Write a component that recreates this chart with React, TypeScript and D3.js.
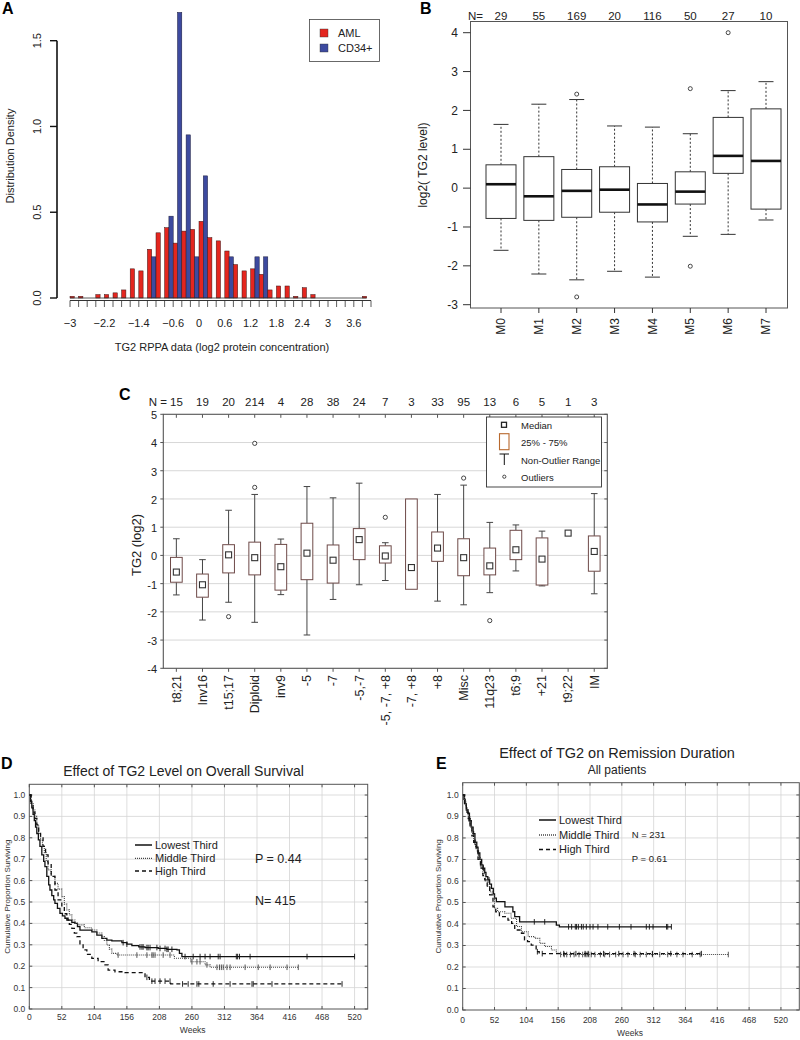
import React from 'react';
import * as d3 from 'd3';

const FONT = "'Liberation Sans', Arial, Helvetica, sans-serif";

// ---------- Panel A: histogram ----------
const histBins = [-3.0, -2.8, -2.6, -2.4, -2.2, -2.0, -1.8, -1.6, -1.4, -1.2, -1.0, -0.8, -0.6, -0.4, -0.2, 0.0, 0.2, 0.4, 0.6, 0.8, 1.0, 1.2, 1.4, 1.6, 1.8, 2.0, 2.2, 2.4, 2.6, 2.8, 3.0, 3.2, 3.4, 3.6, 3.8];
const amlDensity = [0.01, 0.01, 0, 0.02, 0.02, 0.03, 0.047, 0.17, 0.158, 0.284, 0.38, 0.41, 0.32, 0.39, 0.40, 0.447, 0.352, 0.333, 0.274, 0.195, 0.158, 0.17, 0.138, 0.047, 0.07, 0.07, 0.01, 0.06, 0.02, 0, 0, 0, 0, 0, 0.01];
const cd34Density = [0, 0, 0, 0, 0, 0, 0, 0, 0, 0.24, 0, 0.477, 1.665, 0.951, 0.24, 0.712, 0, 0, 0.24, 0, 0, 0.24, 0.24, 0, 0, 0, 0, 0, 0, 0, 0, 0, 0, 0, 0];
const histTickLabels = [-3, -2.2, -1.4, -0.6, 0, 0.6, 1.2, 1.8, 2.4, 3, 3.6];
const histYTicks = [0, 0.5, 1.0, 1.5];
const histSeries = ['AML', 'CD34+'];
const histColors = ['#e4261f', '#3d4a9f'];

// ---------- Panel B: FAB boxplots ----------
const fabCats = ['M0', 'M1', 'M2', 'M3', 'M4', 'M5', 'M6', 'M7'];
const fabN = [29, 55, 169, 20, 116, 50, 27, 10];
const fabLow = [-1.60, -2.21, -2.36, -2.14, -2.29, -1.24, -1.19, -0.82];
const fabQ1 = [-0.78, -0.83, -0.75, -0.62, -0.87, -0.41, 0.38, -0.54];
const fabMed = [0.10, -0.21, -0.07, -0.04, -0.42, -0.09, 0.83, 0.70];
const fabQ3 = [0.60, 0.81, 0.48, 0.55, 0.12, 0.42, 1.82, 2.04];
const fabHigh = [1.64, 2.16, 2.28, 1.60, 1.57, 1.40, 2.51, 2.74];
const fabOutliers = [[], [], [2.42, -2.80], [], [], [2.56, -2.01], [4.0], []];
const fabYTicks = [-3, -2, -1, 0, 1, 2, 3, 4];

// ---------- Panel C: cytogenetics boxplots ----------
const cytoCats = ['t8;21', 'Inv16', 't15;17', 'Diploid', 'inv9', '-5', '-7', '-5,-7', '-5, -7, +8', '-7, +8', '+8', 'Misc', '11q23', 't6;9', '+21', 't9;22', 'IM'];
const cytoN = [15, 19, 20, 214, 4, 28, 38, 24, 7, 3, 33, 95, 13, 6, 5, 1, 3];
const cytoMin = [-1.40, -2.29, -1.66, -2.37, -1.39, -2.82, -1.56, -1.04, -0.89, null, -1.62, -1.75, -1.32, -0.55, -1.08, null, -1.36];
const cytoQ1 = [-0.95, -1.48, -0.62, -0.69, -1.23, -0.86, -0.98, -0.15, -0.27, -1.20, -0.21, -0.72, -0.69, -0.15, -1.05, null, -0.56];
const cytoMed = [-0.59, -1.04, 0.02, -0.08, -0.40, 0.08, -0.17, 0.56, -0.02, -0.43, 0.26, -0.08, -0.37, 0.20, -0.13, 0.79, 0.14];
const cytoQ3 = [-0.07, -0.66, 0.38, 0.47, 0.39, 1.14, 0.37, 0.95, 0.34, 2.0, 0.83, 0.59, 0.26, 0.89, 0.62, null, 0.69];
const cytoMax = [0.59, -0.15, 1.60, 2.16, 0.58, 2.44, 2.04, 2.56, 0.45, null, 2.16, 2.49, 1.17, 1.08, 0.86, null, 2.19];
const cytoOutliers = [[], [], [-2.17], [3.97, 2.41], [], [], [], [], [1.35], [], [], [2.74], [-2.31], [], [], [], []];
const cytoYTicks = [-4, -3, -2, -1, 0, 1, 2, 3, 4, 5];
const cytoLegend = ['Median', '25% - 75%', 'Non-Outlier Range', 'Outliers'];

// ---------- Panel D: overall survival ----------
const survLegend = ['Lowest Third', 'Middle Third', 'High Third'];
const osLow = [[0, 1.0], [2, 0.97], [4, 0.94], [6, 0.91], [8, 0.88], [10, 0.85], [12, 0.82], [14.5, 0.79], [17, 0.76], [20, 0.72], [23, 0.69], [25, 0.665], [28, 0.62], [31, 0.58], [33, 0.556], [36, 0.53], [39, 0.51], [41, 0.494], [45, 0.47], [49, 0.447], [53, 0.435], [57, 0.424], [62, 0.415], [68, 0.405], [73, 0.40], [77, 0.385], [81, 0.369], [100, 0.36], [108, 0.345], [116, 0.33], [124, 0.322], [132, 0.318], [148, 0.31], [156, 0.303], [164, 0.296], [175, 0.29], [185, 0.287], [206, 0.283], [220, 0.279], [236, 0.276], [240, 0.26], [244, 0.245], [520, 0.245]];
const osMid = [[0, 1.0], [3, 0.96], [6, 0.93], [9, 0.9], [12, 0.86], [15, 0.82], [18, 0.79], [21, 0.76], [24, 0.73], [27, 0.69], [30, 0.65], [35, 0.62], [41, 0.587], [46, 0.56], [52, 0.525], [56, 0.49], [60, 0.463], [64, 0.44], [68, 0.416], [73, 0.40], [78, 0.393], [88, 0.38], [100, 0.369], [108, 0.355], [116, 0.338], [120, 0.32], [124, 0.299], [128, 0.28], [132, 0.26], [140, 0.252], [232, 0.237], [258, 0.221], [281, 0.206], [289, 0.195], [430, 0.195]];
const osHigh = [[0, 1.0], [3, 0.95], [6, 0.92], [9, 0.89], [12, 0.86], [15, 0.83], [18, 0.8], [22, 0.76], [26, 0.72], [30, 0.68], [35, 0.62], [41, 0.556], [46, 0.51], [52, 0.478], [56, 0.445], [60, 0.416], [64, 0.395], [68, 0.377], [72, 0.355], [76, 0.338], [81, 0.305], [86, 0.276], [92, 0.255], [100, 0.237], [110, 0.221], [121, 0.206], [126, 0.182], [137, 0.174], [153, 0.17], [182, 0.167], [185, 0.148], [192, 0.13], [226, 0.117], [500, 0.117]];
const osLowCens = [150, 156, 177, 180, 182, 188, 190, 193, 204, 209, 217, 220, 222, 228, 249, 262, 273, 281, 289, 302, 305, 331, 333, 336, 353, 444, 520];
const osMidCens = [142, 172, 188, 196, 198, 201, 214, 225, 260, 268, 273, 284, 300, 304, 307, 310, 316, 321, 345, 366, 385, 412, 430];
const osHighCens = [188, 196, 201, 209, 217, 225, 245, 254, 268, 271, 294, 321, 356, 358, 388, 500];

// ---------- Panel E: remission duration ----------
const rdLow = [[0, 1.0], [2, 0.98], [4, 0.96], [6, 0.93], [8.7, 0.915], [11, 0.88], [14, 0.85], [17, 0.82], [20, 0.78], [23, 0.755], [25, 0.73], [28, 0.70], [31, 0.675], [33, 0.66], [36, 0.64], [38, 0.62], [41, 0.605], [44, 0.585], [47, 0.566], [50, 0.54], [52, 0.52], [55, 0.504], [69, 0.48], [82, 0.457], [85, 0.434], [93, 0.41], [153, 0.395], [158, 0.387], [341, 0.387]];
const rdMid = [[0, 1.0], [3, 0.96], [6, 0.93], [9, 0.9], [12, 0.86], [15, 0.82], [18, 0.79], [21, 0.76], [25, 0.71], [29, 0.67], [33, 0.635], [37, 0.60], [41, 0.574], [45, 0.55], [48, 0.535], [52, 0.473], [57, 0.457], [69, 0.45], [79, 0.426], [88, 0.388], [96, 0.364], [107, 0.341], [118, 0.333], [126, 0.31], [134, 0.295], [145, 0.279], [153, 0.264], [160, 0.258], [434, 0.258]];
const rdHigh = [[0, 1.0], [3, 0.96], [6, 0.92], [9, 0.89], [12, 0.85], [15, 0.81], [18, 0.78], [22, 0.74], [25, 0.70], [29, 0.66], [33, 0.625], [36, 0.605], [40, 0.57], [44, 0.535], [49.5, 0.48], [54, 0.457], [60, 0.434], [74, 0.418], [80, 0.403], [85, 0.372], [96, 0.357], [101, 0.326], [106, 0.318], [112, 0.302], [120, 0.271], [125, 0.262], [390, 0.262]];
const rdLowCens = [3, 7, 12, 18, 26, 34, 43, 117, 134, 173, 178, 184, 186, 189, 194, 197, 202, 208, 213, 221, 237, 256, 275, 300, 305, 311, 333, 335, 341];
const rdMidCens = [5, 14, 22, 30, 160, 166, 170, 176, 182, 190, 196, 200, 203, 206, 210, 216, 225, 232, 240, 250, 262, 270, 282, 290, 300, 310, 322, 335, 350, 360, 375, 388, 434];
const rdHighCens = [10, 20, 122, 130, 165, 185, 200, 205, 230, 255, 280, 310, 340, 390];

const survTicksX = [0, 52, 104, 156, 208, 260, 312, 364, 416, 468, 520];
const survTicksY = [0, 0.1, 0.2, 0.3, 0.4, 0.5, 0.6, 0.7, 0.8, 0.9, 1.0];
const lineStyles = [
  { dash: 'none', color: '#111', width: 1.3 },
  { dash: '1,1', color: '#444', width: 1.1 },
  { dash: '4,3', color: '#111', width: 1.3 },
];

function survAt(curve: number[][], t: number) {
  const i = d3.bisector((d: number[]) => d[0]).right(curve, t) - 1;
  return curve[Math.max(0, i)][1];
}

const fmtMinus = (v: number) => (v < 0 ? '\u2212' + String(Math.abs(v)) : String(v));

function PanelA() {
  const x = d3.scaleLinear().domain([-3, 4]).range([70, 371]);
  const y = d3.scaleLinear().domain([0, 1.5]).range([298, 40.7]);
  const w = x(0.1) - x(0);
  const ticks = d3.range(-3, 4.001, 0.2);
  return (
    <g fontFamily={FONT}>
      <text x={2} y={14} fontSize={16} fontWeight="bold">A</text>
      {histBins.map((b, i) => (
        <g key={i}>
          {amlDensity[i] > 0 && (
            <rect x={x(b)} y={y(amlDensity[i])} width={w} height={y(0) - y(amlDensity[i])} fill={histColors[0]} stroke="#3a1414" strokeWidth={0.5} />
          )}
          {cd34Density[i] > 0 && (
            <rect x={x(b + 0.1)} y={y(cd34Density[i])} width={w} height={y(0) - y(cd34Density[i])} fill={histColors[1]} stroke="#1a1a3a" strokeWidth={0.5} />
          )}
        </g>
      ))}
      <line x1={x(-3)} x2={x(3.9)} y1={y(0)} y2={y(0)} stroke="#333" strokeWidth={0.8} />
      <line x1={x(-3)} x2={x(4)} y1={300.5} y2={300.5} stroke="#333" strokeWidth={1} />
      {ticks.map((t, i) => (
        <line key={i} x1={x(t)} x2={x(t)} y1={300.5} y2={307} stroke="#333" strokeWidth={0.8} />
      ))}
      {histTickLabels.map((t) => (
        <text key={t} x={x(t)} y={327} fontSize={11} textAnchor="middle" fill="#222">{fmtMinus(t)}</text>
      ))}
      <text x={222} y={351} fontSize={11} textAnchor="middle" fill="#222">TG2 RPPA data (log2 protein concentration)</text>
      <line x1={57} x2={57} y1={y(0)} y2={y(1.5)} stroke="#111" strokeWidth={1.6} />
      {histYTicks.map((t) => (
        <g key={t}>
          <line x1={50} x2={57} y1={y(t)} y2={y(t)} stroke="#111" strokeWidth={1.4} />
          <text transform={`translate(41,${y(t)}) rotate(-90)`} fontSize={11} textAnchor="middle" fill="#222">{t.toFixed(1)}</text>
        </g>
      ))}
      <text transform={`translate(14,156) rotate(-90)`} fontSize={11} textAnchor="middle" fill="#222">Distribution Density</text>
      <rect x={309.5} y={19.5} width={70} height={42} fill="#fff" stroke="#444" strokeWidth={0.8} />
      {histSeries.map((s, i) => (
        <g key={s}>
          <rect x={320} y={29 + i * 15} width={8} height={8} fill={histColors[i]} stroke="#333" strokeWidth={0.4} />
          <text x={338} y={37 + i * 15} fontSize={11} fill="#222">{s}</text>
        </g>
      ))}
    </g>
  );
}

function PanelB() {
  const x = d3.scalePoint().domain(fabCats).range([501, 766]);
  const y = d3.scaleLinear().domain([-3, 4]).range([304.7, 32.7]);
  const bw = 30;
  return (
    <g fontFamily={FONT}>
      <text x={420} y={14} fontSize={16} fontWeight="bold">B</text>
      <rect x={470.5} y={21.5} width={317} height={286.5} fill="none" stroke="#555" strokeWidth={1} />
      <text x={468} y={20} fontSize={11.5} fill="#222">N=</text>
      {fabCats.map((c, i) => {
        const cx = x(c) as number;
        return (
          <g key={c}>
            <text x={cx} y={20} fontSize={11.5} textAnchor="middle" fill="#222">{fabN[i]}</text>
            <line x1={cx} x2={cx} y1={y(fabQ3[i])} y2={y(fabHigh[i])} stroke="#333" strokeDasharray="2,2" />
            <line x1={cx} x2={cx} y1={y(fabQ1[i])} y2={y(fabLow[i])} stroke="#333" strokeDasharray="2,2" />
            <line x1={cx - 7.5} x2={cx + 7.5} y1={y(fabHigh[i])} y2={y(fabHigh[i])} stroke="#333" />
            <line x1={cx - 7.5} x2={cx + 7.5} y1={y(fabLow[i])} y2={y(fabLow[i])} stroke="#333" />
            <rect x={cx - bw / 2} y={y(fabQ3[i])} width={bw} height={y(fabQ1[i]) - y(fabQ3[i])} fill="#fff" stroke="#333" strokeWidth={1} />
            <line x1={cx - bw / 2} x2={cx + bw / 2} y1={y(fabMed[i])} y2={y(fabMed[i])} stroke="#111" strokeWidth={2.6} />
            {fabOutliers[i].map((o, j) => (
              <circle key={j} cx={cx} cy={y(o)} r={2} fill="none" stroke="#333" strokeWidth={0.9} />
            ))}
            <line x1={cx} x2={cx} y1={308} y2={313} stroke="#333" />
            <text transform={`translate(${cx},318) rotate(-90)`} dy="0.35em" fontSize={12} textAnchor="end" fill="#222">{c}</text>
          </g>
        );
      })}
      {fabYTicks.map((t) => (
        <g key={t}>
          <line x1={463} x2={470.5} y1={y(t)} y2={y(t)} stroke="#333" />
          <text x={458} y={y(t)} dy="0.35em" fontSize={12} textAnchor="end" fill="#222">{t}</text>
        </g>
      ))}
      <text transform={`translate(427,165) rotate(-90)`} fontSize={12} textAnchor="middle" fill="#222">log2( TG2 level)</text>
    </g>
  );
}

function PanelC() {
  const x = d3.scaleBand().domain(cytoCats).range([163.3, 607.3]);
  const y = d3.scaleLinear().domain([-4, 5]).range([668.3, 414.3]);
  const bw = 11.7;
  const boxColor = '#6e4a48';
  const left = 163.3, right = 607.3, top = 414.3, bottom = 668.3;
  return (
    <g fontFamily={FONT}>
      <text x={119} y={400} fontSize={16} fontWeight="bold">C</text>
      {cytoYTicks.filter((t) => t > -4 && t < 5).map((t) => (
        <line key={t} x1={left} x2={right} y1={y(t)} y2={y(t)} stroke="#d2d2d2" strokeWidth={0.9} />
      ))}
      <rect x={left} y={top} width={right - left} height={bottom - top} fill="none" stroke="#555" strokeWidth={1.1} />
      {cytoYTicks.map((t) => (
        <g key={t}>
          <line x1={left - 3} x2={left} y1={y(t)} y2={y(t)} stroke="#555" />
          <line x1={right - 3} x2={right} y1={y(t)} y2={y(t)} stroke="#555" />
          <text x={157} y={y(t) + 1} dy="0.36em" fontSize={11} textAnchor="end" fill="#222">{t}</text>
        </g>
      ))}
      {cytoCats.map((c, i) => {
        const cx = (x(c) as number) + x.bandwidth() / 2;
        const hasBox = cytoQ1[i] !== null && cytoQ3[i] !== null;
        return (
          <g key={c}>
            {i === 0 ? (
              <text x={cx + 6.5} y={406} fontSize={11.5} textAnchor="end" fill="#222">{`N = ${cytoN[i]}`}</text>
            ) : (
              <text x={cx} y={406} fontSize={11.5} textAnchor="middle" fill="#222">{cytoN[i]}</text>
            )}
            <line x1={cx} x2={cx} y1={top} y2={top + 3.5} stroke="#555" />
            <line x1={cx} x2={cx} y1={bottom} y2={bottom + 3.5} stroke="#555" />
            {cytoMax[i] !== null && hasBox && (
              <g stroke="#444" strokeWidth={1}>
                <line x1={cx} x2={cx} y1={y(cytoQ3[i] as number)} y2={y(cytoMax[i] as number)} />
                <line x1={cx - 3.3} x2={cx + 3.3} y1={y(cytoMax[i] as number)} y2={y(cytoMax[i] as number)} />
              </g>
            )}
            {cytoMin[i] !== null && hasBox && (
              <g stroke="#444" strokeWidth={1}>
                <line x1={cx} x2={cx} y1={y(cytoQ1[i] as number)} y2={y(cytoMin[i] as number)} />
                <line x1={cx - 3.3} x2={cx + 3.3} y1={y(cytoMin[i] as number)} y2={y(cytoMin[i] as number)} />
              </g>
            )}
            {hasBox && (
              <rect x={cx - bw / 2} y={y(cytoQ3[i] as number)} width={bw} height={y(cytoQ1[i] as number) - y(cytoQ3[i] as number)} fill="#fff" stroke={boxColor} strokeWidth={1} />
            )}
            <rect x={cx - 3} y={y(cytoMed[i]) - 3} width={6} height={6} fill="#fff" stroke="#333" strokeWidth={1.1} />
            {cytoOutliers[i].map((o, j) => (
              <circle key={j} cx={cx} cy={y(o)} r={2.1} fill="#fff" stroke="#333" strokeWidth={0.9} />
            ))}
            <text transform={`translate(${cx},675) rotate(-90)`} dy="0.35em" fontSize={12.5} textAnchor="end" fill="#222">{c}</text>
          </g>
        );
      })}
      <text transform={`translate(141,545) rotate(-90)`} fontSize={13} textAnchor="middle" fill="#222">TG2 (log2)</text>
      <rect x={486.5} y={417} width={115} height={70} fill="#fff" stroke="#333" strokeWidth={0.9} />
      <rect x={501.5} y={422.3} width={5} height={5} fill="#fff" stroke="#222" strokeWidth={1.3} />
      <rect x={499.5} y={433.7} width={9.5} height={16} fill="#fff" stroke="#b8692e" strokeWidth={1.1} />
      <line x1={504.3} x2={504.3} y1={454} y2={465} stroke="#111" strokeWidth={1} />
      <line x1={499.5} x2={509} y1={454} y2={454} stroke="#111" strokeWidth={1} />
      <circle cx={504.3} cy={476.7} r={1.6} fill="#fff" stroke="#333" strokeWidth={0.9} />
      {cytoLegend.map((s, i) => (
        <text key={s} x={521} y={[428.5, 446, 463.5, 481][i]} fontSize={9.5} fill="#222">{s}</text>
      ))}
    </g>
  );
}

type SurvProps = {
  letter: string; lx: number; ly: number;
  titles: { text: string; x: number; y: number; size: number }[];
  x0: number; x1: number; y0: number; y1: number; xMax: number; yMax: number;
  curves: number[][][]; cens: number[][];
  legendX: number; legendY: number[];
  notes: { text: string; x: number; y: number; size: number }[];
  yLabelX: number; weeksX: number; weeksY: number; tickY: number;
};

function SurvPanel(p: SurvProps) {
  const x = d3.scaleLinear().domain([0, p.xMax]).range([p.x0, p.x1]);
  const y = d3.scaleLinear().domain([0, p.yMax]).range([p.y0, p.y1]);
  const line = d3.line<number[]>().curve(d3.curveStepAfter).x((d) => x(d[0])).y((d) => y(d[1]));
  return (
    <g fontFamily={FONT}>
      <text x={p.lx} y={p.ly} fontSize={16} fontWeight="bold">{p.letter}</text>
      {p.titles.map((t) => (
        <text key={t.text} x={t.x} y={t.y} fontSize={t.size} textAnchor="middle" fill="#222">{t.text}</text>
      ))}
      <clipPath id={`clip${p.letter}`}>
        <rect x={p.x0} y={p.y1} width={p.x1 - p.x0} height={p.y0 - p.y1} />
      </clipPath>
      {survTicksX.filter((t) => t > 0).map((t) => (
        <line key={t} x1={x(t)} x2={x(t)} y1={p.y1} y2={p.y0} stroke="#d4d4d4" strokeWidth={0.8} />
      ))}
      {survTicksY.filter((t) => t > 0).map((t) => (
        <line key={t} x1={p.x0} x2={p.x1} y1={y(t)} y2={y(t)} stroke="#d4d4d4" strokeWidth={0.8} />
      ))}
      <rect x={p.x0} y={p.y1} width={p.x1 - p.x0} height={p.y0 - p.y1} fill="none" stroke="#555" strokeWidth={1} />
      {survTicksX.map((t) => (
        <g key={t}>
          <line x1={x(t)} x2={x(t)} y1={p.y1} y2={p.y1 + 3} stroke="#555" />
          <line x1={x(t)} x2={x(t)} y1={p.y0} y2={p.y0 - 3} stroke="#555" />
          <text x={x(t)} y={p.tickY} fontSize={8.5} textAnchor="middle" fill="#333">{t}</text>
        </g>
      ))}
      {survTicksY.map((t) => (
        <g key={t}>
          <line x1={p.x0} x2={p.x0 + 3} y1={y(t)} y2={y(t)} stroke="#555" />
          <line x1={p.x1} x2={p.x1 - 3} y1={y(t)} y2={y(t)} stroke="#555" />
          <text x={p.x0 - 4} y={y(t)} dy="0.35em" fontSize={8.5} textAnchor="end" fill="#333">{t.toFixed(1)}</text>
        </g>
      ))}
      <text transform={`translate(${p.yLabelX},${(p.y0 + p.y1) / 2}) rotate(-90)`} fontSize={8} textAnchor="middle" fill="#333">Cumulative Proportion Surviving</text>
      <text x={p.weeksX} y={p.weeksY} fontSize={8.5} textAnchor="middle" fill="#333">Weeks</text>
      <g clipPath={`url(#clip${p.letter})`}>
        {p.curves.map((c, i) => (
          <g key={i}>
            <path d={line(c) as string} fill="none" stroke={lineStyles[i].color} strokeWidth={lineStyles[i].width} strokeDasharray={lineStyles[i].dash} />
            {p.cens[i].map((t, j) => (
              <line key={j} x1={x(t)} x2={x(t)} y1={y(survAt(c, t)) - 2.8} y2={y(survAt(c, t)) + 2.8} stroke={lineStyles[i].color} strokeWidth={0.9} />
            ))}
          </g>
        ))}
      </g>
      {survLegend.map((s, i) => (
        <g key={s}>
          <line x1={p.legendX} x2={p.legendX + 17} y1={p.legendY[i]} y2={p.legendY[i]} stroke={lineStyles[i].color} strokeWidth={lineStyles[i].width + 0.2} strokeDasharray={lineStyles[i].dash} />
          <text x={p.legendX + 20} y={p.legendY[i]} dy="0.35em" fontSize={11} fill="#222">{s}</text>
        </g>
      ))}
      {p.notes.map((n) => (
        <text key={n.text} x={n.x} y={n.y} dy="0.35em" fontSize={n.size} fill="#222">{n.text}</text>
      ))}
    </g>
  );
}

export default function App() {
  return (
    <svg width={800} height={1040} style={{ position: 'absolute', left: 0, top: 0, background: '#fff' }}>
      <rect x={0} y={0} width={800} height={1040} fill="#fff" />
      <PanelA />
      <PanelB />
      <PanelC />
      <SurvPanel
        letter="D" lx={1} ly={769}
        titles={[{ text: 'Effect of TG2 Level on Overall Survival', x: 183.5, y: 776, size: 14 }]}
        x0={29.3} x1={367.7} y0={1009} y1={784.3} xMax={541} yMax={1.05}
        curves={[osLow, osMid, osHigh]} cens={[osLowCens, osMidCens, osHighCens]}
        legendX={135} legendY={[845, 858.3, 871]}
        notes={[{ text: 'P = 0.44', x: 255, y: 858.3, size: 12.5 }, { text: 'N= 415', x: 255, y: 900.7, size: 12.5 }]}
        yLabelX={10} weeksX={192.7} weeksY={1033} tickY={1020}
      />
      <SurvPanel
        letter="E" lx={436} ly={769}
        titles={[{ text: 'Effect of TG2 on Remission Duration', x: 617, y: 758, size: 14.5 }, { text: 'All patients', x: 617, y: 774, size: 12 }]}
        x0={462.7} x1={799.3} y0={1010} y1={782.7} xMax={550} yMax={1.057}
        curves={[rdLow, rdMid, rdHigh]} cens={[rdLowCens, rdMidCens, rdHighCens]}
        legendX={539} legendY={[820, 835, 849.5]}
        notes={[{ text: 'N = 231', x: 631.7, y: 835, size: 9.5 }, { text: 'P = 0.61', x: 631.7, y: 859, size: 9.5 }]}
        yLabelX={441} weeksX={630} weeksY={1036} tickY={1023}
      />
    </svg>
  );
}
